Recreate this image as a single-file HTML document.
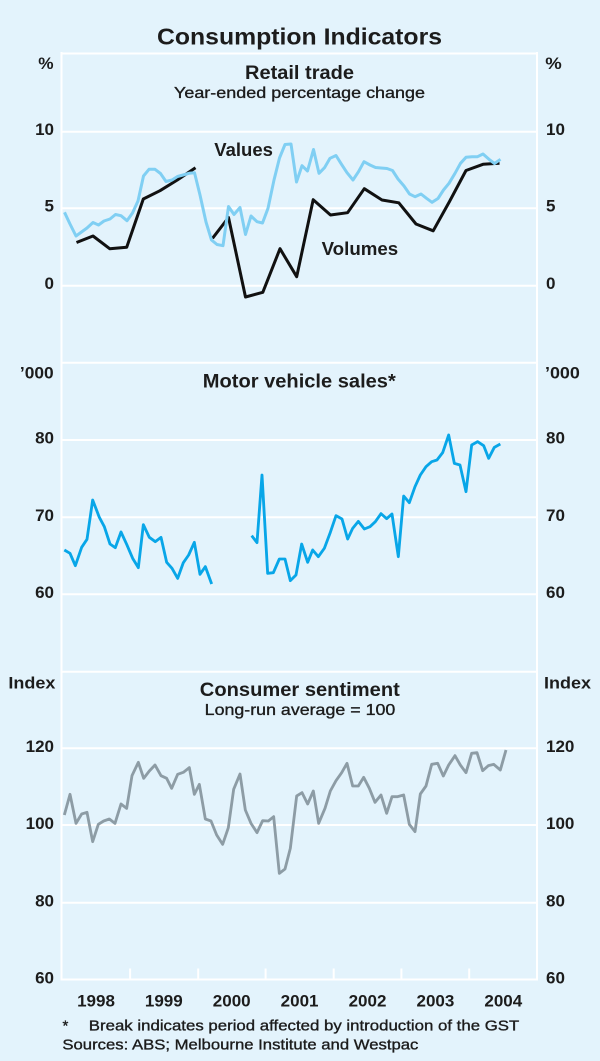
<!DOCTYPE html>
<html><head><meta charset="utf-8"><style>
html,body{margin:0;padding:0;background:#e3f3fc;}
svg{display:block;}
text{font-family:"Liberation Sans",Arial,sans-serif;fill:#1c1c1c;}
.b{font-weight:bold;}
.t{font-size:17px;font-weight:bold;}
.m{stroke:#1c1c1c;stroke-width:0.35px;}
</style></head><body>
<svg width="600" height="1061" viewBox="0 0 600 1061" xmlns="http://www.w3.org/2000/svg">
<rect x="0" y="0" width="600" height="1061" fill="#e3f3fc"/>

<!-- frame & gridlines -->
<g stroke="#ffffff" stroke-width="2" fill="none">
  <line x1="61.5" y1="53.5" x2="537" y2="53.5"/>
  <line x1="61.5" y1="362.7" x2="537" y2="362.7"/>
  <line x1="61.5" y1="671.7" x2="537" y2="671.7"/>
  <line x1="61.5" y1="979.5" x2="537" y2="979.5"/>
  <line x1="61.5" y1="52" x2="61.5" y2="980.5"/>
  <line x1="537" y1="52" x2="537" y2="980.5"/>
  <line x1="61.5" y1="131.7" x2="537" y2="131.7"/>
  <line x1="61.5" y1="208.3" x2="537" y2="208.3"/>
  <line x1="61.5" y1="285.7" x2="537" y2="285.7"/>
  <line x1="61.5" y1="440" x2="537" y2="440"/>
  <line x1="61.5" y1="517.3" x2="537" y2="517.3"/>
  <line x1="61.5" y1="594.3" x2="537" y2="594.3"/>
  <line x1="61.5" y1="748.3" x2="537" y2="748.3"/>
  <line x1="61.5" y1="825" x2="537" y2="825"/>
  <line x1="61.5" y1="902.7" x2="537" y2="902.7"/>
  <line x1="130.1" y1="968.5" x2="130.1" y2="980"/>
  <line x1="198.2" y1="968.5" x2="198.2" y2="980"/>
  <line x1="265.6" y1="968.5" x2="265.6" y2="980"/>
  <line x1="333.7" y1="968.5" x2="333.7" y2="980"/>
  <line x1="401.4" y1="968.5" x2="401.4" y2="980"/>
  <line x1="469.2" y1="968.5" x2="469.2" y2="980"/>
</g>

<!-- Title -->
<text class="b" x="157" y="44.5" font-size="23" textLength="285" lengthAdjust="spacingAndGlyphs">Consumption Indicators</text>

<!-- Panel 1 -->
<text class="t" x="38.3" y="69" textLength="15.3" lengthAdjust="spacingAndGlyphs">%</text>
<text class="t" x="545.3" y="69" textLength="16.5" lengthAdjust="spacingAndGlyphs">%</text>
<text class="b" x="245" y="79" font-size="19" textLength="109" lengthAdjust="spacingAndGlyphs">Retail trade</text>
<text class="m" x="174" y="98" font-size="16" textLength="251" lengthAdjust="spacingAndGlyphs">Year-ended percentage change</text>
<g class="t" text-anchor="end">
  <text x="54" y="135">10</text>
  <text x="54" y="211.7">5</text>
  <text x="54" y="289">0</text>
</g>
<g class="t">
  <text x="546" y="135">10</text>
  <text x="546" y="211.7">5</text>
  <text x="546" y="289">0</text>
</g>
<text class="b" x="214.3" y="156" font-size="18" textLength="58.6" lengthAdjust="spacingAndGlyphs">Values</text>
<text class="b" x="321.6" y="255" font-size="18" textLength="76.6" lengthAdjust="spacingAndGlyphs">Volumes</text>

<g fill="none" stroke-linejoin="round" stroke-linecap="butt">
<polyline stroke="#111111" stroke-width="3" points="76.5,242.5 93,236 109.7,248.7 126.7,247.3 143.3,199 160,190.7 177.3,180 195.5,167.7"/>
<polyline stroke="#111111" stroke-width="3" points="212.5,238.3 228.5,217.5 245.5,297 262.8,292.3 280,248.7 296.7,276.7 313.2,199.7 330.5,215 347.6,212.7 364.3,188.7 382,200 398.8,202.8 416,224 433.2,230.8 449.5,201.5 466,170.5 483,164.3 499.5,163.3"/>
<polyline stroke="#80cff3" stroke-width="3" points="64.5,212.3 70,224 76,236 81.5,232 87,228 93,222.5 98.5,225 104,221 110,219 115.5,214.5 121,215.7 127,220.7 132.5,213 138,201 143.5,176 149,169.3 155,169.3 160.5,173.5 166,181.5 172,180 177.5,176.5 183,175 189,173.3 194.5,172.7 200,195 206,222 211.5,240 217,244.5 223,245.7 228.5,206.5 234,214.5 240,207.5 245.5,234.5 251,216 257,221.7 262.5,223 268,208.3 274,180 279.5,158 285,144.5 291,144 296.5,182 302,165.7 307.5,171 313.5,149.5 319,173.3 324.5,167.7 330,158.3 336,155.5 341.5,164.3 347,172.7 353,180 358.5,171.7 364,161.7 370,165 375.5,167.5 381,168 387,168.5 392.5,170.5 398,179 404,186 409.5,194 415,196.7 421,194 426.5,198.3 432,202.3 438,198.5 443.5,190 449,183.3 455,173.3 460.5,163.3 466,157.3 472,156.7 477.5,156.7 483,154 489,159.3 494.5,163.5 500.5,159.3"/>
</g>

<!-- Panel 2 -->
<text class="t" x="19.9" y="378.3" textLength="33.7" lengthAdjust="spacingAndGlyphs">’000</text>
<text class="t" x="545" y="378.3" textLength="34.8" lengthAdjust="spacingAndGlyphs">’000</text>
<text class="b" x="202.8" y="387.3" font-size="19" textLength="193" lengthAdjust="spacingAndGlyphs">Motor vehicle sales*</text>
<g class="t" text-anchor="end">
  <text x="54" y="443.7">80</text>
  <text x="54" y="521">70</text>
  <text x="54" y="598">60</text>
</g>
<g class="t">
  <text x="546" y="443.7">80</text>
  <text x="546" y="521">70</text>
  <text x="546" y="598">60</text>
</g>
<g transform="translate(61,430) scale(0.33333)" fill="none" stroke="#08a6e8" stroke-width="8.5" stroke-linejoin="round">
<polyline points="10,360 27,370 43,407 62,352 78,328 95,210 115,262 130,290 147,342 163,353 180,306 197,343 215,385 232,413 247,284 265,322 283,335 300,322 317,397 333,415 350,445 367,398 383,375 400,337 417,433 433,410 452,462"/>
<polyline points="572,317 588,338 603,135 620,430 637,428 655,387 672,387 688,452 705,435 722,342 740,397 755,360 772,380 790,355 808,307 825,257 843,267 860,327 875,295 892,274 910,297 927,290 943,275 960,251 977,266 993,252 1012,380 1028,198 1045,218 1062,170 1078,135 1095,110 1112,95 1128,90 1145,68 1163,15 1180,100 1197,105 1215,185 1232,45 1250,35 1268,47 1283,85 1300,52 1318,42"/>
</g>

<!-- Panel 3 -->
<text class="t" x="8.4" y="688.3" textLength="47" lengthAdjust="spacingAndGlyphs">Index</text>
<text class="t" x="544" y="688.3" textLength="47" lengthAdjust="spacingAndGlyphs">Index</text>
<text class="b" x="199.8" y="696" font-size="19" textLength="200" lengthAdjust="spacingAndGlyphs">Consumer sentiment</text>
<text class="m" x="204.7" y="715" font-size="16" textLength="190.6" lengthAdjust="spacingAndGlyphs">Long-run average = 100</text>
<g class="t" text-anchor="end">
  <text x="54" y="752">120</text>
  <text x="54" y="829">100</text>
  <text x="54" y="906.5">80</text>
  <text x="54" y="983.5">60</text>
</g>
<g class="t">
  <text x="546" y="752">120</text>
  <text x="546" y="829">100</text>
  <text x="546" y="906.5">80</text>
  <text x="546" y="983.5">60</text>
</g>
<g transform="translate(61,735) scale(0.33333)" fill="none" stroke="#8d9ca5" stroke-width="8.5" stroke-linejoin="round">
<polyline points="10,240 27,178 45,265 62,237 78,232 95,320 112,268 128,258 145,252 162,265 180,207 197,220 213,122 232,82 248,130 265,108 282,90 300,122 317,130 332,160 350,118 367,112 385,98 400,178 415,148 433,252 450,258 467,300 485,328 502,278 518,163 537,117 553,225 570,265 588,293 605,257 622,258 638,245 655,415 672,402 688,340 707,183 723,173 740,207 757,168 773,265 792,220 808,168 825,137 842,113 858,85 875,153 892,153 908,127 925,160 942,202 960,180 977,235 993,185 1010,185 1028,180 1045,268 1062,290 1078,177 1095,153 1112,88 1130,85 1147,123 1163,90 1182,62 1198,90 1215,113 1232,55 1248,53 1265,107 1282,92 1298,88 1318,105 1335,45"/>
</g>

<!-- Year labels -->
<g class="t" text-anchor="middle" font-size="17.5">
  <text x="96" y="1006.7">1998</text>
  <text x="163.8" y="1006.7">1999</text>
  <text x="231.7" y="1006.7">2000</text>
  <text x="299.6" y="1006.7">2001</text>
  <text x="367.5" y="1006.7">2002</text>
  <text x="435.4" y="1006.7">2003</text>
  <text x="503.3" y="1006.7">2004</text>
</g>

<!-- Footnotes -->
<text class="m" x="62.5" y="1030.5" font-size="15">*</text>
<text class="m" x="88.8" y="1030.7" font-size="15" textLength="430.5" lengthAdjust="spacingAndGlyphs">Break indicates period affected by introduction of the GST</text>
<text class="m" x="62.4" y="1049.3" font-size="15" textLength="356" lengthAdjust="spacingAndGlyphs">Sources: ABS; Melbourne Institute and Westpac</text>
</svg>
</body></html>
